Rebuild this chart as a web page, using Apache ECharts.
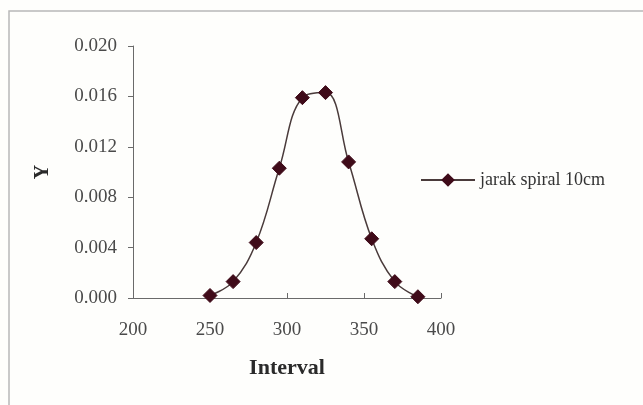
<!DOCTYPE html>
<html>
<head>
<meta charset="utf-8">
<script src="https://cdn.jsdelivr.net/npm/echarts@6/dist/echarts.min.js"></script>
<style>
  html, body { margin: 0; padding: 0; background: #fefefc; }
  #chart { width: 643px; height: 405px; }
</style>
</head>
<body>
<div id="chart"></div>
<script>
// Interval values and the Y measurement for the 10 cm spiral spacing
const intervals = [250, 265, 280, 295, 310, 325, 340, 355, 370, 385];
const yValues = [0.0002, 0.0013, 0.0044, 0.0103, 0.0159, 0.0163, 0.0108, 0.0047, 0.0013, 0.0001];
const seriesName = 'jarak spiral 10cm';

const chart = echarts.init(document.getElementById('chart'));
const serif = '"Liberation Serif", "Times New Roman", serif';

chart.setOption({
  backgroundColor: '#fefefc',
  animation: false,
  graphic: [{
    type: 'rect',
    shape: { x: 9, y: 11, width: 700, height: 500 },
    style: { fill: 'none', stroke: '#b8b8b8', lineWidth: 1.5 },
    silent: true,
    z: -1
  }],
  grid: { left: 133, right: 202, top: 46, bottom: 107 },
  legend: {
    left: 415,
    top: 166,
    itemWidth: 54,
    itemHeight: 17,
    itemGap: 6,
    textStyle: { fontFamily: serif, fontSize: 18, color: '#333' },
    data: [seriesName]
  },
  xAxis: {
    type: 'value',
    min: 200,
    max: 400,
    interval: 50,
    name: 'Interval',
    nameLocation: 'middle',
    nameGap: 59,
    nameTextStyle: { fontFamily: serif, fontSize: 22, fontWeight: 'bold', color: '#2a2a2a' },
    axisLine: { show: true, onZero: false, lineStyle: { color: '#6a6a6a', width: 1 } },
    axisTick: { show: true, inside: true, length: 5, lineStyle: { color: '#6a6a6a' } },
    axisLabel: { fontFamily: serif, fontSize: 19, color: '#4a4a4a', margin: 23 },
    splitLine: { show: false }
  },
  yAxis: {
    type: 'value',
    min: 0,
    max: 0.02,
    interval: 0.004,
    name: 'Y',
    nameLocation: 'middle',
    nameGap: 80,
    nameTextStyle: { fontFamily: serif, fontSize: 20, fontWeight: 'bold', color: '#2a2a2a' },
    axisLine: { show: true, lineStyle: { color: '#6a6a6a', width: 1 } },
    axisTick: { show: true, inside: false, length: 5, lineStyle: { color: '#6a6a6a' } },
    axisLabel: {
      fontFamily: serif, fontSize: 19, color: '#4a4a4a', margin: 16,
      formatter: v => v.toFixed(3)
    },
    splitLine: { show: false }
  },
  series: [{
    name: seriesName,
    type: 'line',
    data: intervals.map((x, i) => [x, yValues[i]]),
    smooth: 0.4,
    symbol: 'diamond',
    symbolSize: 14,
    lineStyle: { color: '#4a3b3b', width: 1.5 },
    itemStyle: { color: '#3f0b19', borderColor: '#3f0b19' }
  }]
});
</script>
</body>
</html>
